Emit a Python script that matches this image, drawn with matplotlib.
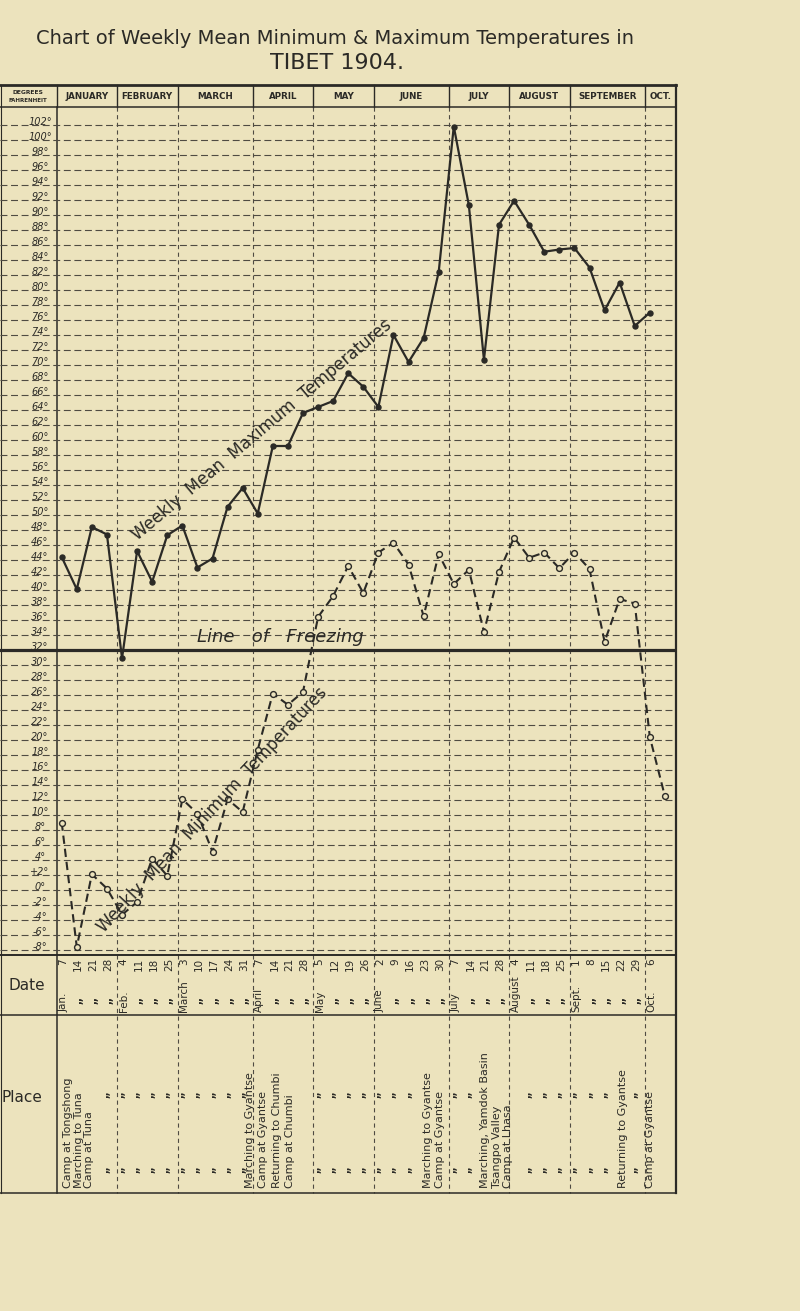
import numpy as np
import matplotlib.pyplot as plt
from matplotlib.transforms import blended_transform_factory as blend

plt.rcParams['font.family'] = ['DejaVu Sans']
plt.rcParams['lines.scale_dashes'] = False

paper = '#ece3bd'
ink = '#2b2a26'
grid_ink = '#4f4b42'

# header months, date row labels
months = ['JANUARY', 'FEBRUARY', 'MARCH', 'APRIL', 'MAY', 'JUNE', 'JULY',
          'AUGUST', 'SEPTEMBER', 'OCT.']
month_short = ['Jan.', 'Feb.', 'March', 'April', 'May', 'June', 'July',
               'August', 'Sept.', 'Oct.']
days = [[7, 14, 21, 28], [4, 11, 18, 25], [3, 10, 17, 24, 31], [7, 14, 21, 28],
        [5, 12, 19, 26], [2, 9, 16, 23, 30], [7, 14, 21, 28], [4, 11, 18, 25],
        [1, 8, 15, 22, 29], [6]]

# weekly mean maximum (deg F), Jan 7 .. Oct 6
max_temp = [44.4, 40.1, 48.4, 47.4, 30.9, 45.2, 41.1, 47.3, 48.6, 43.0,
            44.2, 51.1, 53.6, 50.2, 59.2, 59.2, 63.6, 64.4, 65.2, 68.9,
            67.1, 64.4, 74.0, 70.4, 73.6, 82.4, 101.8, 91.3, 70.7, 88.7,
            91.9, 88.7, 85.1, 85.4, 85.6, 83.0, 77.3, 81.0, 75.2, 77.0]

# weekly mean minimum (deg F), Jan 7 .. Oct 13
min_temp = [9.0, -7.6, 2.1, 0.2, -3.3, -1.6, 4.2, 1.9, 12.1, 10.2,
            5.1, 12.1, 10.4, 18.7, 26.2, 24.7, 26.4, 36.4, 39.2, 43.2,
            39.6, 45.0, 46.3, 43.4, 36.5, 44.8, 40.8, 42.7, 34.4, 42.4,
            47.0, 44.3, 45.0, 42.9, 45.0, 42.8, 33.1, 38.8, 38.2, 20.4,
            12.5]

deg_ticks = list(range(102, -9, -2))

place_week = [0, 1, 2, 13, 14, 15, 16, 24, 25, 28, 29, 30, 37, 39]
place_text = ['Camp at Tongshong', 'Marching to Tuna', 'Camp at Tuna',
              'Marching to Gyantse', 'Camp at Gyantse', 'Returning to Chumbi',
              'Camp at Chumbi', 'Marching to Gyantse', 'Camp at Gyantse',
              'Marching, Yamdok Basin', 'Tsangpo Valley', 'Camp at Lhasa',
              'Returning to Gyantse', 'Camp at Gyantse']
# entries are written as packed blocks, nudged off their week column
place_shift = [0.42, 0.15, -0.19, -0.51, -0.65, -0.72, -0.86,
               0.29, 0.09, 0.07, -0.14, -0.40, 0.22, 0.01]

W, H = 800, 1311
fig = plt.figure(figsize=(W / 100, H / 100), dpi=100)
fig.patch.set_facecolor(paper)

# overlay in pixel coords for the table frame and labels
ov = fig.add_axes([0, 0, 1, 1], zorder=1)
ov.set_xlim(0, W)
ov.set_ylim(H, 0)
ov.axis('off')

# plot area: x = week index, y = degrees
top_px, bot_px, right_px = 107, 956, 676
x0, dx = 61.7, 15.08
t0, dt = 125, 7.5
ax = fig.add_axes([0, 1 - bot_px / H, right_px / W, (bot_px - top_px) / H], zorder=2)
ax.set_xlim(-x0 / dx, (right_px - x0) / dx)
ax.set_ylim(102 - (bot_px - t0) / dt, 102 + (t0 - top_px) / dt)
ax.axis('off')
ax.patch.set_alpha(0)

xw = blend(ax.transData, ov.transData)   # x in weeks, y in pixels
yt = blend(ov.transData, ax.transData)   # x in pixels, y in degrees

# horizontal grid
for t in deg_ticks:
    if t == 32:
        continue
    ax.axhline(t, color=grid_ink, lw=0.8, dashes=(5, 2.6), zorder=1)
ax.axhline(32, color=ink, lw=2.3, zorder=2)

# month boundaries
first_week = np.cumsum([0] + [len(d) for d in days[:-1]])
bounds = first_week - 0.32
xmax_w = (right_px - x0) / dx
for k, b in enumerate(bounds):
    ov.plot([b, b], [85, top_px], color=ink, lw=1.0, transform=xw)
    if k == 0:
        ov.plot([b, b], [top_px, 1193], color=ink, lw=1.1, transform=xw)
    else:
        ov.plot([b, b], [top_px, 1193], color=grid_ink, lw=0.8,
                dashes=(3, 2.5), transform=xw)
ov.plot([right_px, right_px], [85, 1193], color=ink, lw=1.6)
ov.plot([1, 1], [85, 1193], color=ink, lw=0.8)

for yy, lw in [(85, 2.0), (top_px, 1.1), (955, 1.4), (1015, 1.1), (1193, 1.1)]:
    ov.plot([0, right_px], [yy, yy], color=ink, lw=lw)

# header
edges = list(bounds) + [xmax_w]
for k, name in enumerate(months):
    ov.text((edges[k] + edges[k + 1]) / 2, 96.5, name, transform=xw,
            ha='center', va='center', fontsize=6.3, fontweight='bold', color=ink)
ov.text(28, 92, 'DEGREES', ha='center', va='center', fontsize=4.3,
        fontweight='bold', color=ink)
ov.text(28, 101, 'FAHRENHEIT', ha='center', va='center', fontsize=4.0,
        fontweight='bold', color=ink)

# degree labels
for t in deg_ticks:
    lab = '+2°' if t == 2 else f'{t}°'
    ov.text(40, t, lab, transform=yt, ha='center', va='baseline',
            fontsize=7, color=ink, style='italic')

# series
weeks_max = np.arange(len(max_temp))
weeks_min = np.arange(len(min_temp))
ax.plot(weeks_max, max_temp, color=ink, lw=1.6, marker='o', ms=3.6,
        mfc=ink, mec=ink, zorder=5)
ax.plot(weeks_min, min_temp, color=ink, lw=1.5, dashes=(6, 3.5), marker='o',
        ms=4.2, mfc=paper, mec=ink, mew=1.0, zorder=5)

ax.text(13.3, 61.3, 'Weekly  Mean  Maximum  Temperatures', rotation=40,
        ha='center', va='center', fontsize=12, color=ink, zorder=6)
ax.text(10.0, 10.7, 'Weekly  Mean  Minimum  Temperatures', rotation=47,
        ha='center', va='center', fontsize=12, color=ink, zorder=6)
ax.text(9.0, 32.5, 'Line   of   Freezing', ha='left', va='bottom',
        fontsize=13, style='italic', color=ink, zorder=6)

# date row
ov.text(27, 985, 'Date', ha='center', va='center', fontsize=11, color=ink)
for k, dlist in enumerate(days):
    for j, d in enumerate(dlist):
        w = first_week[k] + j
        ov.text(w + 0.1, 958, str(d), transform=xw, rotation=90, ha='center',
                va='top', fontsize=7.5, color=ink)
        if j == 0:
            ov.text(w + 0.1, 1012, month_short[k], transform=xw, rotation=90,
                    ha='center', va='bottom', fontsize=7.5, color=ink)
        else:
            ov.text(w + 0.1, 1000, ',,', transform=xw, rotation=90,
                    ha='center', va='center', fontsize=7.5,
                    fontweight='bold', color=ink)

# place row
ov.text(22, 1098, 'Place', ha='center', va='center', fontsize=11, color=ink)
n_weeks = sum(len(d) for d in days)
for w in range(n_weeks):
    if w in place_week:
        k = place_week.index(w)
        ov.text(w + place_shift[k], 1188, place_text[k], transform=xw,
                rotation=90, ha='center', va='bottom', fontsize=8, color=ink)
    else:
        for yy in (1094, 1169):
            ov.text(w - 0.1, yy, ',,', transform=xw, rotation=90,
                    ha='center', va='center', fontsize=7,
                    fontweight='bold', color=ink)

# title
ov.text(335, 38, 'Chart of Weekly Mean Minimum & Maximum Temperatures in',
        ha='center', va='center', fontsize=14, color=ink)
ov.text(337, 63, 'TIBET 1904.', ha='center', va='center', fontsize=16,
        color=ink)

fig.savefig('out.png', dpi=100, facecolor=paper)
